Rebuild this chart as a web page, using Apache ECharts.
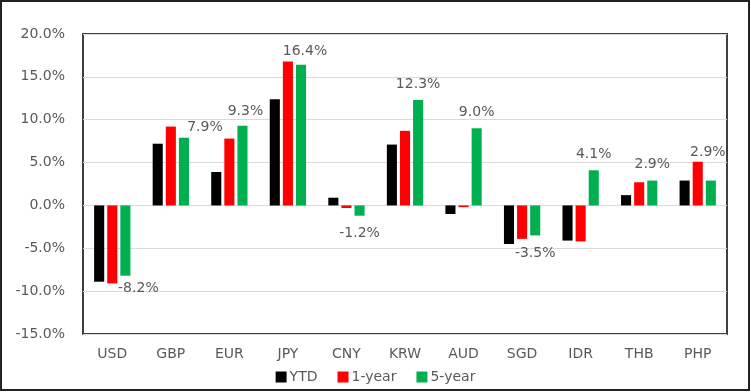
<!DOCTYPE html>
<html>
<head>
<meta charset="utf-8">
<script src="https://cdn.jsdelivr.net/npm/echarts@6/dist/echarts.min.js"></script>
<style>
html,body{margin:0;padding:0;background:#fff;}
#c{width:751px;height:392px;}
</style>
</head>
<body>
<div id="c"></div>
<script>
var categories = ['USD','GBP','EUR','JPY','CNY','KRW','AUD','SGD','IDR','THB','PHP'];
var ytd      = [-8.9, 7.2, 3.9, 12.4, 0.9, 7.1, -1.0, -4.5, -4.1, 1.2, 2.9];
var oneYear  = [-9.1, 9.2, 7.8, 16.8, -0.3, 8.7, -0.2, -3.9, -4.2, 2.7, 5.1];
var fiveYear = [-8.2, 7.9, 9.3, 16.4, -1.2, 12.3, 9.0, -3.5, 4.1, 2.9, 2.9];
var seriesNames = ['YTD', '1-year', '5-year'];
var yTicks = [-15, -10, -5, 0, 5, 10, 15, 20];
// label nudges for the 5-year labels (style, not data)
var labelOffsets = [[13,-5],[21,6],[3,2],[4,3],[0,0],[0,0],[0,0],[0,0],[0,0],[0,0],[-3,-12]];

var FONT = 'DejaVu Sans';
var TXT = '#595959';

var fiveData = fiveYear.map(function(v, i){
  return {
    value: v,
    label: {
      position: v >= 0 ? 'top' : 'bottom',
      distance: v >= 0 ? 9 : 11,
      offset: labelOffsets[i]
    }
  };
});

var chart = echarts.init(document.getElementById('c'), null, {renderer:'canvas'});
chart.setOption({
  animation: false,
  backgroundColor: '#ffffff',
  graphic: [{
    type: 'rect',
    shape: {x: 1, y: 1, width: 748, height: 389},
    style: {fill: 'none', stroke: '#222222', lineWidth: 2},
    silent: true
  }],
  grid: {
    left: 83, right: 24, top: 34, bottom: 58,
    show: true, borderColor: '#404040', borderWidth: 2, backgroundColor: 'transparent'
  },
  legend: {
    data: seriesNames,
    top: 365,
    left: 'center',
    icon: 'rect',
    itemWidth: 11,
    itemHeight: 11,
    itemGap: 20,
    textStyle: {fontFamily: FONT, fontSize: 14, color: TXT, padding: [0,0,0,-2]}
  },
  xAxis: {
    type: 'category',
    data: categories,
    axisLine: {show: false, onZero: false},
    axisTick: {show: false},
    axisLabel: {fontFamily: FONT, fontSize: 14, color: TXT, margin: 13},
    splitLine: {show: false}
  },
  yAxis: {
    type: 'value',
    min: yTicks[0],
    max: yTicks[yTicks.length - 1],
    interval: 5,
    axisLine: {show: false},
    axisTick: {show: false},
    axisLabel: {
      fontFamily: FONT, fontSize: 14, color: TXT, margin: 18,
      formatter: function(v){ return v.toFixed(1) + '%'; }
    },
    splitLine: {show: true, lineStyle: {color: '#d9d9d9', width: 1}}
  },
  series: [
    {name: seriesNames[0], type: 'bar', data: ytd, itemStyle: {color: '#000000'},
     barGap: '30%', barCategoryGap: '38%'},
    {name: seriesNames[1], type: 'bar', data: oneYear, itemStyle: {color: '#ff0000'},
     barGap: '30%', barCategoryGap: '38%'},
    {name: seriesNames[2], type: 'bar', data: fiveData, itemStyle: {color: '#00b050'},
     barGap: '30%', barCategoryGap: '38%',
     label: {show: true, fontFamily: FONT, fontSize: 14, color: TXT,
       formatter: function(p){ return p.value.toFixed(1) + '%'; }}}
  ]
});
</script>
</body>
</html>
